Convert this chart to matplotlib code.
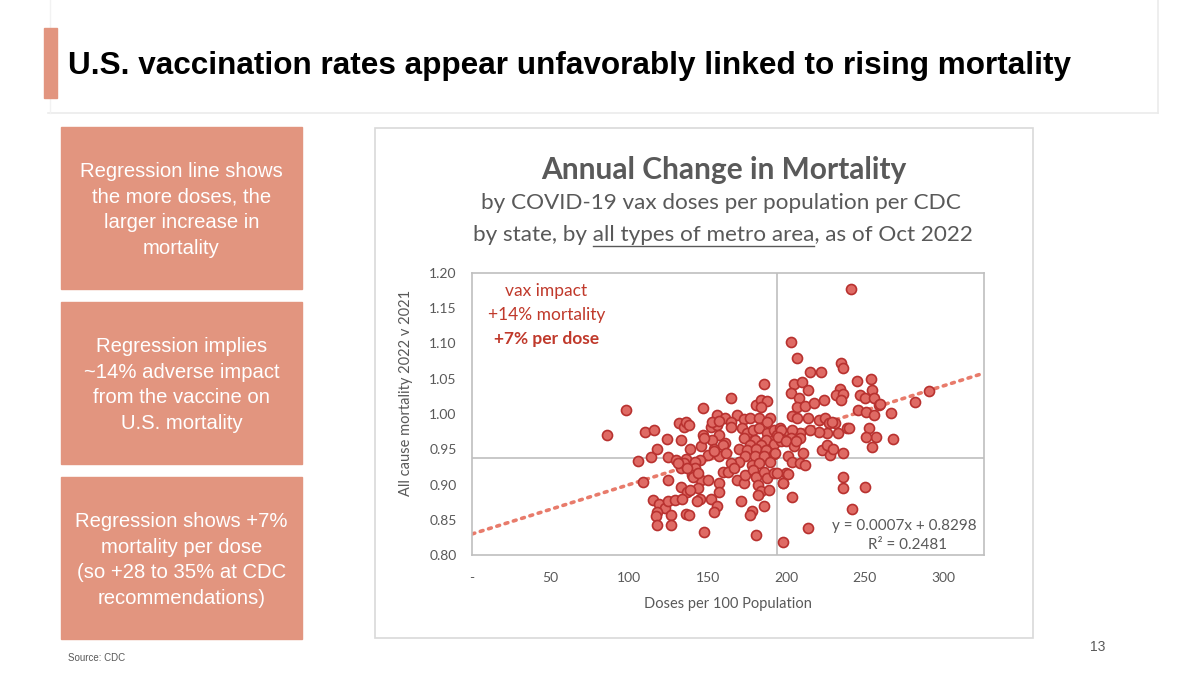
import matplotlib
matplotlib.use('Agg')
import matplotlib.pyplot as plt
from matplotlib.patches import Rectangle
import numpy as np

# doses per 100 population vs all-cause mortality ratio 2022/2021
doses = [86, 98, 110, 116, 124, 133, 106, 114, 118, 109, 125, 132, 135, 136, 125, 130, 136, 139,
         133, 135, 133, 137, 115, 119, 123, 118, 125, 129, 134, 117, 118, 127, 127, 136, 138, 148,
         186, 165, 147, 181, 184, 188, 184, 156, 161, 169, 165, 173, 177, 183, 190, 188, 138, 152,
         156, 157, 147, 153, 161, 146, 154, 160, 165, 172, 175, 179, 183, 188, 192, 196, 194, 173,
         180, 187, 177, 184, 192, 197, 200, 170, 175, 181, 187, 192, 174, 180, 186, 190, 170, 165,
         178, 183, 150, 157, 162, 145, 142, 148, 154, 153, 157,
         142, 140, 146, 150, 157, 157, 144, 139, 160, 163, 167, 169, 173, 174, 179, 181, 186, 188,
         192, 198, 200, 182, 184, 182, 189, 145, 152, 143, 156, 154, 171, 178, 177, 186, 181, 198,
         141, 131, 137, 144,
         203, 207, 235, 236, 215, 222, 245, 254, 205, 210, 214, 203, 208, 207, 212, 218, 224, 234,
         232, 236, 235, 247, 255, 250, 256, 259, 246, 251, 256, 204, 207, 214, 221, 225, 227, 231,
         239, 233, 226, 221, 215, 209, 204, 197, 195, 203, 209, 253, 257, 251, 267, 268, 255, 282,
         291, 260, 241, 240,
         200, 205, 206, 211, 201, 204, 209, 212, 193, 194, 201, 198, 223, 226, 228, 230, 236, 236,
         236, 250, 242, 204, 214, 229]
mortality = [0.970, 1.005, 0.974, 0.977, 0.964, 0.963, 0.934, 0.939, 0.950, 0.903, 0.906, 0.987,
             0.982, 0.988, 0.939, 0.935, 0.936, 0.950, 0.923, 0.930, 0.897, 0.890, 0.878, 0.872,
             0.866, 0.861, 0.876, 0.878, 0.880, 0.855, 0.842, 0.857, 0.842, 0.858, 0.857, 0.833,
             1.042, 1.022, 1.009, 1.013, 1.020, 1.018, 1.010, 0.998, 0.995, 0.999, 0.989, 0.993,
             0.994, 0.994, 0.995, 0.989, 0.984, 0.982, 0.984, 0.970, 0.970, 0.963, 0.959, 0.954,
             0.951, 0.956, 0.982, 0.980, 0.973, 0.977, 0.980, 0.973, 0.977, 0.980, 0.970, 0.966,
             0.963, 0.963, 0.956, 0.956, 0.958, 0.961, 0.963, 0.950, 0.949, 0.951, 0.949, 0.943,
             0.940, 0.940, 0.940, 0.932, 0.932, 0.930, 0.928, 0.930, 0.942, 0.940, 0.944, 0.935,
             0.932, 0.966, 0.947, 0.988, 0.990,
             0.923, 0.913, 0.906, 0.906, 0.902, 0.890, 0.895, 0.892, 0.918, 0.918, 0.923, 0.906,
             0.902, 0.914, 0.921, 0.911, 0.918, 0.909, 0.916, 0.902, 0.916, 0.899, 0.891, 0.885,
             0.892, 0.880, 0.879, 0.877, 0.869, 0.861, 0.877, 0.862, 0.857, 0.869, 0.829, 0.818,
             0.911, 0.930, 0.923, 0.916,
             1.102, 1.080, 1.072, 1.065, 1.059, 1.059, 1.047, 1.050, 1.043, 1.046, 1.034, 1.030,
             1.022, 1.010, 1.011, 1.016, 1.020, 1.035, 1.027, 1.028, 1.020, 1.027, 1.034, 1.022,
             1.022, 1.013, 1.006, 1.003, 0.999, 0.997, 0.994, 0.995, 0.991, 0.994, 0.987, 0.987,
             0.980, 0.973, 0.973, 0.975, 0.978, 0.973, 0.978, 0.978, 0.968, 0.966, 0.966, 0.980,
             0.968, 0.968, 1.001, 0.964, 0.953, 1.017, 1.033, 1.014, 1.177, 0.980,
             0.961, 0.955, 0.961, 0.944, 0.940, 0.932, 0.930, 0.928, 0.944, 0.916, 0.915, 0.902,
             0.949, 0.956, 0.942, 0.951, 0.945, 0.911, 0.895, 0.896, 0.865, 0.882, 0.839, 0.988]

slope, intercept, r_squared = 0.0007, 0.8298, 0.2481
quad_x, quad_y = 194, 0.938
x_ticks = [0, 50, 100, 150, 200, 250, 300]
x_tick_labels = ['-', '50', '100', '150', '200', '250', '300']
y_ticks = [0.80, 0.85, 0.90, 0.95, 1.00, 1.05, 1.10, 1.15, 1.20]

slide_title = "U.S. vaccination rates appear unfavorably linked to rising mortality"
box_texts = ["Regression line shows\nthe more doses, the\nlarger increase in\nmortality",
             "Regression implies\n~14% adverse impact\nfrom the vaccine on\nU.S. mortality",
             "Regression shows +7%\nmortality per dose\n(so +28 to 35% at CDC\nrecommendations)"]

salmon = '#E2957F'
grey_txt = '#595959'
red_txt = '#C0392B'
chart_font = ['Lato', 'DejaVu Sans']
arial = ['Liberation Sans', 'DejaVu Sans']

fig = plt.figure(figsize=(12, 6.76), dpi=100)

# pixel overlay for the slide furniture
bg = fig.add_axes([0, 0, 1, 1])
bg.set_xlim(0, 1200)
bg.set_ylim(676, 0)
bg.axis('off')

bg.plot([48, 1158], [113, 113], color='#EBEBEB', lw=1.2, zorder=1)
bg.plot([1158, 1158], [0, 113], color='#EBEBEB', lw=1.2, zorder=1)
bg.plot([50, 50], [0, 113], color='#F2F2F2', lw=1, zorder=1)
bg.add_patch(Rectangle((44, 28), 13, 70, color=salmon, zorder=3))
bg.text(68, 66, slide_title, va='center', ha='left', fontsize=22.7, fontweight='bold',
        family=['Liberation Sans Narrow', 'Liberation Sans'], color='black')

box_tops = [127, 302, 477]
for top, txt in zip(box_tops, box_texts):
    bg.add_patch(Rectangle((61, top), 241, 162, color=salmon))
    bg.text(181.5, top + 83, txt, ha='center', va='center', color='white', fontsize=14.6,
            family=arial, linespacing=1.46)

bg.text(68, 658, "Source: CDC", fontsize=7, color=grey_txt, family=arial, va='center')
bg.text(1098, 647, "13", fontsize=10, color=grey_txt, family=arial, va='center', ha='center')

# chart panel
bg.add_patch(Rectangle((375, 128), 658, 510, fill=False, ec='#D9D9D9', lw=1.2))
bg.text(724, 170, "Annual Change in Mortality", ha='center', va='center', fontsize=21.5,
        fontweight='bold', color=grey_txt, family=chart_font)
bg.text(721, 203, "by COVID-19 vax doses per population per CDC", ha='center', va='center',
        fontsize=16.2, color=grey_txt, family=chart_font)
line3 = "by state, by all types of metro area, as of Oct 2022"
t3 = bg.text(723, 235, line3, ha='center', va='center', fontsize=16.2, color=grey_txt,
             family=chart_font)

# underline "all types of metro area"
fig.canvas.draw()
r = fig.canvas.get_renderer()
full = t3.get_window_extent(r)
pre = bg.text(0, 0, "by state, by ", fontsize=16.2, family=chart_font)
mid = bg.text(0, 0, "all types of metro area", fontsize=16.2, family=chart_font)
w_pre = pre.get_window_extent(r).width
w_mid = mid.get_window_extent(r).width
pre.remove()
mid.remove()
x0 = full.x0 + w_pre
bg.plot([x0 * 1200 / fig.bbox.width, (x0 + w_mid) * 1200 / fig.bbox.width], [246, 246],
        color=grey_txt, lw=1)

bg.text(406, 393, "All cause mortality 2022 v 2021", rotation=90, ha='center', va='center',
        fontsize=10.5, color=grey_txt, family=chart_font)
bg.text(728, 604, "Doses per 100 Population", ha='center', va='center', fontsize=10.5,
        color=grey_txt, family=chart_font)

# scatter axes
ax = fig.add_axes([472 / 1200, 1 - 555 / 676, 512 / 1200, 282 / 676])
ax.set_xlim(0, 326)
ax.set_ylim(0.80, 1.20)
ax.scatter(doses, mortality, s=52, c='#DF6A64', edgecolors='#B8312F', linewidths=1.2, zorder=3)
xs = np.array([0, 326])
ax.plot(xs, slope * xs + intercept, color='#E87B6B', lw=2.6, ls=(0, (0.8, 1.6)),
        dash_capstyle='round', zorder=2)
ax.axvline(quad_x, color='#BFBFBF', lw=1.2, zorder=1)
ax.axhline(quad_y, color='#BFBFBF', lw=1.2, zorder=1)
for s in ax.spines.values():
    s.set_color('#BFBFBF')
    s.set_linewidth(1.2)
ax.set_xticks(x_ticks)
ax.set_xticklabels(x_tick_labels)
ax.set_yticks(y_ticks)
ax.set_yticklabels(['%.2f' % v for v in y_ticks])
ax.tick_params(length=0, labelsize=10, labelcolor=grey_txt)
ax.tick_params(axis='x', pad=12)
ax.tick_params(axis='y', pad=11)
for lab in ax.get_xticklabels() + ax.get_yticklabels():
    lab.set_family(chart_font)

ax.text(0.145, 0.935, "vax impact", transform=ax.transAxes, ha='center', va='center',
        fontsize=12.5, color=red_txt, family=chart_font)
ax.text(0.145, 0.85, "+14% mortality", transform=ax.transAxes, ha='center', va='center',
        fontsize=12.5, color=red_txt, family=chart_font)
ax.text(0.145, 0.765, "+7% per dose", transform=ax.transAxes, ha='center', va='center',
        fontsize=12.5, fontweight='bold', color=red_txt, family=chart_font)
ax.text(0.845, 0.103, "y = %.4fx + %.4f" % (slope, intercept), transform=ax.transAxes,
        ha='center', va='center', fontsize=11, color=grey_txt, family=chart_font)
ax.text(0.85, 0.035, "R\u00b2 = %.4f" % r_squared, transform=ax.transAxes,
        ha='center', va='center', fontsize=11, color=grey_txt, family=chart_font)

fig.savefig('out.png', dpi=100)
